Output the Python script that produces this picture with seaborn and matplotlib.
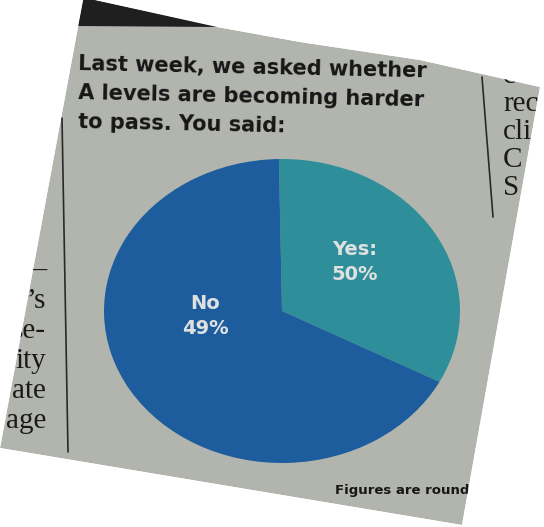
import matplotlib
matplotlib.use("Agg")
import matplotlib.pyplot as plt
import seaborn as sns
from matplotlib.patches import Polygon, PathPatch
from matplotlib.path import Path

# ---- data ----
categories = ["Yes", "No"]
label_pct = [50, 49]             # percentages printed on the slices
drawn_share = [33, 67]           # angular share of each slice as printed
slice_colors = ["#2e8f9a", "#1d5d9d"]
title_lines = ["Last week, we asked whether",
               "A levels are becoming harder",
               "to pass. You said:"]
footnote = "Figures are rounded"
left_fragments = ["\u2014", "\u2019s", "se-", "ity", "ate", "age"]
right_fragments = ["c", "rec", "cli", "C", "S"]

sns.set_theme(style="white")
plt.rcParams["font.family"] = ["DejaVu Sans"]

W, H = 544, 527
fig = plt.figure(figsize=(W / 100, H / 100), dpi=100, facecolor="white")


def px(x, y):
    return (x / W, 1 - y / H)


paper_xy = [(83, 0), (95, 0), (217, 27), (300, 42), (420, 60), (540, 87),
            (462, 525), (0, 448)]

# paper sheet
paper = Polygon([px(*p) for p in paper_xy], closed=True, transform=fig.transFigure,
                facecolor="#b2b5ad", edgecolor="none", zorder=0)
fig.patches.append(paper)
band = Polygon([px(83, 0), px(95, 0), px(220, 27), px(78, 26)], closed=True,
               transform=fig.transFigure, facecolor="#1e1f1e", edgecolor="none", zorder=1)
fig.patches.append(band)

# column rules
for (x0, y0, x1, y1) in [(62, 118, 68, 452), (482, 77, 493, 217)]:
    fig.add_artist(plt.Line2D([x0 / W, x1 / W], [1 - y0 / H, 1 - y1 / H],
                              transform=fig.transFigure, color="#2a2a2a", lw=1.2, zorder=2))

# title (slightly tilted, as photographed)
for i, line in enumerate(title_lines):
    fig.text(78 / W, 1 - (70 + 29 * i) / H, line, ha="left", va="baseline",
             fontsize=15, fontweight="bold", color="#161616", zorder=3,
             rotation=-1.2, rotation_mode="anchor")

# body text fragments (neighbouring newspaper columns)
for i, t in enumerate(left_fragments):
    fig.text(46 / W, 1 - (278 + 30 * i) / H, t, ha="right", va="baseline",
             fontsize=21, family=["Liberation Serif", "DejaVu Serif"],
             color="#1a1a1a", zorder=3)
for i, t in enumerate(right_fragments):
    fig.text(503 / W, 1 - (83 + 28 * i) / H, t, ha="left", va="baseline",
             fontsize=21, family=["Liberation Serif", "DejaVu Serif"],
             color="#1a1a1a", zorder=3)

# pie (drawn as ellipse like the photographed print)
cx, cy, rx, ry = 282, 311, 178, 152
ax = fig.add_axes([(cx - rx) / W, 1 - (cy + ry) / H, 2 * rx / W, 2 * ry / H])
ax.set_zorder(4)
wedges, _ = ax.pie(drawn_share, colors=slice_colors, startangle=91,
                   counterclock=False, radius=1.0,
                   wedgeprops=dict(linewidth=0))
ax.set_aspect("auto")
ax.set_xlim(-1, 1)
ax.set_ylim(-1, 1)
ax.axis("off")
ax.patch.set_alpha(0)

label_pos = [(355, 262), (205, 316)]
seps = [":\n", "\n"]
for cat, pct, (lx, ly), sep in zip(categories, label_pct, label_pos, seps):
    fig.text(lx / W, 1 - ly / H, f"{cat}{sep}{pct}%", ha="center", va="center",
             fontsize=14, fontweight="bold", color="#dfe1e1",
             linespacing=1.4, zorder=6)

fig.text(335 / W, 1 - 494 / H, footnote, ha="left", va="baseline",
         fontsize=9.5, fontweight="bold", color="#161616", zorder=3)

# white mask outside the photographed sheet
outer = [(-20, -20), (W + 20, -20), (W + 20, H + 20), (-20, H + 20), (-20, -20)]
inner = list(reversed(paper_xy)) + [paper_xy[-1]]
verts = [px(*p) for p in outer] + [px(*p) for p in inner]
codes = ([Path.MOVETO] + [Path.LINETO] * 3 + [Path.CLOSEPOLY]
         + [Path.MOVETO] + [Path.LINETO] * (len(paper_xy) - 1) + [Path.CLOSEPOLY])
mask = PathPatch(Path(verts, codes), transform=fig.transFigure,
                 facecolor="white", edgecolor="none", zorder=20)
fig.add_artist(mask)

fig.savefig("out.png", dpi=100, facecolor="white")
